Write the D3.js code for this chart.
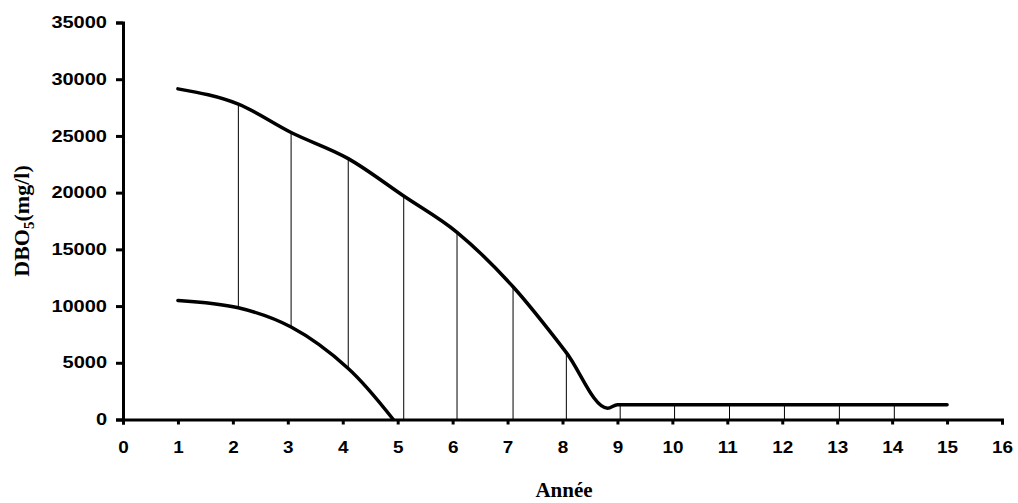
<!DOCTYPE html>
<html>
<head>
<meta charset="utf-8">
<script src="https://cdn.jsdelivr.net/npm/d3@7"></script>
<style>
  body { margin: 0; background: #fff; }
  svg { display: block; }
</style>
</head>
<body>
<svg id="chart"></svg>
<script>
let chartWidth = 1018;
let chartHeight = 503;

// upper curve (DBO5 max)
const upperX = [1, 2.1, 3.06, 4.1, 5.11, 6.08, 7.1, 8.07, 8.82, 9.0, 10.04, 11.04, 12.04, 13.04, 14.04, 15];
const upperY = [29150, 27800, 25300, 23000, 19700, 16500, 11700, 5900, 1000, 1300, 1300, 1300, 1300, 1300, 1300, 1300];

// lower curve (DBO5 min)
const lowerX = [1, 2.1, 3.06, 4.1, 4.92];
const lowerY = [10500, 9850, 8150, 4500, 0];

// high-low lines
const dropX = [2.1, 3.06, 4.1, 5.11, 6.08, 7.1, 8.07, 9.05, 10.04, 11.04, 12.04, 13.04, 14.04];
const dropHigh = [27800, 25300, 23000, 19700, 16500, 11700, 5900, 1300, 1300, 1300, 1300, 1300, 1300];
const dropLow = [9850, 8150, 4500, 0, 0, 0, 0, 0, 0, 0, 0, 0, 0];

const xTicks = d3.range(0, 17, 1);
const yTicks = [0, 5000, 10000, 15000, 20000, 25000, 30000, 35000];

let margin = {left: 123, top: 22.5, right: 16, bottom: 83.5};
let w = chartWidth - margin.left - margin.right;
let h = chartHeight - margin.top - margin.bottom;

let svg = d3.select("#chart")
    .attr("width", chartWidth)
    .attr("height", chartHeight);

let g = svg.append("g")
    .attr("transform", "translate(" + margin.left + "," + margin.top + ")");

let x = d3.scaleLinear().domain([0, 16]).range([0, w]);
let y = d3.scaleLinear().domain([0, 35000]).range([h, 0]);

// drop lines first so the curves sit on top
g.append("g")
    .selectAll("line")
    .data(dropX)
    .enter().append("line")
    .attr("x1", d => x(d))
    .attr("x2", d => x(d))
    .attr("y1", (d, i) => y(dropHigh[i]))
    .attr("y2", (d, i) => y(dropLow[i]))
    .attr("stroke", "#000")
    .attr("stroke-width", 1);

let line = d3.line()
    .x(d => x(d[0]))
    .y(d => y(d[1]))
    .curve(d3.curveMonotoneX);

g.append("path")
    .datum(upperX.map((v, i) => [v, upperY[i]]))
    .attr("d", line)
    .attr("fill", "none")
    .attr("stroke", "#000")
    .attr("stroke-width", 3.5)
    .attr("stroke-linecap", "round");

g.append("path")
    .datum(lowerX.map((v, i) => [v, lowerY[i]]))
    .attr("d", line.curve(d3.curveCatmullRom.alpha(0.5)))
    .attr("fill", "none")
    .attr("stroke", "#000")
    .attr("stroke-width", 3.5)
    .attr("stroke-linecap", "round");

// axes
let yAxis = g.append("g")
    .call(d3.axisLeft(y).tickValues(yTicks).tickFormat(d3.format("d")).tickSize(7).tickPadding(9));

let xAxis = g.append("g")
    .attr("transform", "translate(0," + h + ")")
    .call(d3.axisBottom(x).tickValues(xTicks).tickFormat(d3.format("d")).tickSize(5).tickPadding(17));

[yAxis, xAxis].forEach(function (ax) {
    ax.select(".domain").attr("stroke", "#000").attr("stroke-width", 3);
    ax.selectAll(".tick line").attr("stroke", "#000").attr("stroke-width", 3);
    ax.selectAll(".tick text")
        .attr("fill", "#000")
        .style("font-family", "'Liberation Sans', Arial, sans-serif")
        .style("font-weight", "bold")
        .style("font-size", "16px");
});

// stretch tick labels a little, like the original
yAxis.selectAll(".tick text").each(function () {
    let len = this.getComputedTextLength();
    d3.select(this).attr("textLength", len * 1.25).attr("lengthAdjust", "spacingAndGlyphs");
});
xAxis.selectAll(".tick text").each(function () {
    let len = this.getComputedTextLength();
    d3.select(this).attr("textLength", len * 1.18).attr("lengthAdjust", "spacingAndGlyphs");
});

// axis titles
svg.append("text")
    .attr("x", 564)
    .attr("y", 497)
    .attr("text-anchor", "middle")
    .style("font-family", "'Liberation Serif', 'Times New Roman', serif")
    .style("font-weight", "bold")
    .style("font-size", "21px")
    .text("Année");

let yTitle = svg.append("text")
    .attr("transform", "translate(29,221) rotate(-90)")
    .attr("text-anchor", "middle")
    .style("font-family", "'Liberation Serif', 'Times New Roman', serif")
    .style("font-weight", "bold")
    .style("font-size", "22px");
yTitle.append("tspan").text("DBO");
yTitle.append("tspan").attr("dy", 5).style("font-size", "15px").text("5");
yTitle.append("tspan").attr("dy", -5).text("(mg/l)");
</script>
</body>
</html>
